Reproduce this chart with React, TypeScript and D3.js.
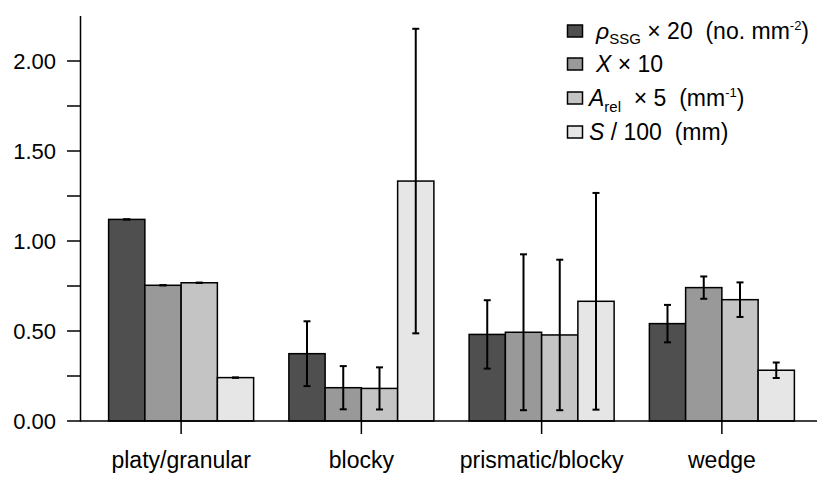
import React from "react";
import * as d3 from "d3";

const categories = ["platy/granular", "blocky", "prismatic/blocky", "wedge"];
const seriesKeys = ["rho", "X", "Arel", "S"];

// Scaled means per structure class, one array per variable
const rhoValues = [1.12, 0.374, 0.481, 0.541];
const xValues = [0.754, 0.185, 0.493, 0.741];
const arelValues = [0.768, 0.181, 0.478, 0.674];
const sValues = [0.241, 1.333, 0.665, 0.282];

// Standard deviations (same scaling)
const rhoErr = [0, 0.18, 0.19, 0.104];
const xErr = [0, 0.12, 0.433, 0.062];
const arelErr = [0, 0.117, 0.418, 0.096];
const sErr = [0, 0.846, 0.602, 0.043];

const majorTicks = [0, 0.5, 1.0, 1.5, 2.0];
const minorTicks = [0.25, 0.75, 1.25, 1.75];

const seriesValues = [rhoValues, xValues, arelValues, sValues];
const seriesErrors = [rhoErr, xErr, arelErr, sErr];
const fills = ["#4f4f4f", "#999999", "#c4c4c4", "#e6e6e6"];

const W = 817;
const H = 477;
const FONT = "'Liberation Sans', Arial, Helvetica, sans-serif";

export default function App() {
  const y = d3.scaleLinear().domain([0, 2.25]).range([421, 16]);
  const x = d3.scaleBand<string>().domain(categories).range([91, 812]).padding(0);
  const xs = d3
    .scaleBand<string>()
    .domain(seriesKeys)
    .range([0, x.bandwidth()])
    .paddingInner(0)
    .paddingOuter(0.486);

  const axisX = 80.5;
  const base = y(0);
  const fmt = d3.format(".2f");

  const legendRows = [
    { key: "rho", baseline: 39, textX: 596 },
    { key: "X", baseline: 72, textX: 596 },
    { key: "Arel", baseline: 106, textX: 589 },
    { key: "S", baseline: 140, textX: 589 },
  ];

  const legendText = (key: string) => {
    switch (key) {
      case "rho":
        return (
          <>
            <tspan fontStyle="italic">ρ</tspan>
            <tspan fontSize={15} dy={5}>SSG</tspan>
            <tspan dy={-5}>{" × 20  (no. mm"}</tspan>
            <tspan fontSize={13} dy={-9}>-2</tspan>
            <tspan dy={9}>)</tspan>
          </>
        );
      case "X":
        return (
          <>
            <tspan fontStyle="italic">X</tspan>
            <tspan>{" × 10"}</tspan>
          </>
        );
      case "Arel":
        return (
          <>
            <tspan fontStyle="italic">A</tspan>
            <tspan fontSize={15} dy={6}>rel</tspan>
            <tspan dy={-6}>{"  × 5  (mm"}</tspan>
            <tspan fontSize={13} dy={-9}>-1</tspan>
            <tspan dy={9}>)</tspan>
          </>
        );
      default:
        return (
          <>
            <tspan fontStyle="italic">S</tspan>
            <tspan>{" / 100  (mm)"}</tspan>
          </>
        );
    }
  };

  return (
    <svg
      width={W}
      height={H}
      style={{ display: "block", position: "absolute", left: 0, top: 0 }}
      fontFamily={FONT}
    >
      <rect width={W} height={H} fill="#fff" />

      {/* bars */}
      {categories.map((c, ci) => (
        <g key={c} transform={`translate(${x(c)},0)`}>
          {seriesKeys.map((k, si) => {
            const v = seriesValues[si][ci];
            const bx = xs(k)!;
            const bw = xs.bandwidth();
            return (
              <rect
                key={k}
                x={bx}
                y={y(v)}
                width={bw}
                height={base - y(v)}
                fill={fills[si]}
                stroke="#000"
                strokeWidth={1.5}
              />
            );
          })}
        </g>
      ))}

      {/* error bars */}
      {categories.map((c, ci) => (
        <g key={c + "-err"} transform={`translate(${x(c)},0)`}>
          {seriesKeys.map((k, si) => {
            const v = seriesValues[si][ci];
            const e = seriesErrors[si][ci];
            const cx = xs(k)! + xs.bandwidth() / 2;
            const y1 = y(v + e);
            const y2 = y(Math.max(v - e, 0));
            return (
              <g key={k} stroke="#000" strokeWidth={2}>
                <line x1={cx} x2={cx} y1={y1} y2={y2} />
                <line x1={cx - 3.5} x2={cx + 3.5} y1={y1} y2={y1} />
                <line x1={cx - 3.5} x2={cx + 3.5} y1={y2} y2={y2} />
              </g>
            );
          })}
        </g>
      ))}

      {/* y axis */}
      <line x1={axisX} x2={axisX} y1={y(2.25)} y2={base + 0.75} stroke="#000" strokeWidth={1.5} />
      {[...majorTicks, ...minorTicks].map((t) => (
        <line key={t} x1={67} x2={axisX} y1={y(t)} y2={y(t)} stroke="#000" strokeWidth={1.5} />
      ))}
      {majorTicks.map((t) => (
        <text key={t} x={56} y={y(t) + 8} textAnchor="end" fontSize={22} fill="#000">
          {fmt(t)}
        </text>
      ))}

      {/* x axis */}
      <line x1={axisX} x2={W} y1={base} y2={base} stroke="#000" strokeWidth={1.5} />
      {categories.map((c) => {
        const cx = x(c)! + x.bandwidth() / 2;
        return (
          <g key={c}>
            <line x1={cx} x2={cx} y1={base} y2={434} stroke="#000" strokeWidth={1.5} />
            <text x={cx} y={468} textAnchor="middle" fontSize={23} fill="#000">
              {c}
            </text>
          </g>
        );
      })}

      {/* legend */}
      {legendRows.map((r, i) => (
        <g key={r.key}>
          <rect
            x={567.5}
            y={r.baseline - 14}
            width={15}
            height={12}
            fill={fills[i]}
            stroke="#000"
            strokeWidth={1.5}
          />
          <text
            x={r.textX}
            y={r.baseline}
            fontSize={23}
            fill="#000"
            style={{ whiteSpace: "pre" }}
          >
            {legendText(r.key)}
          </text>
        </g>
      ))}
    </svg>
  );
}
